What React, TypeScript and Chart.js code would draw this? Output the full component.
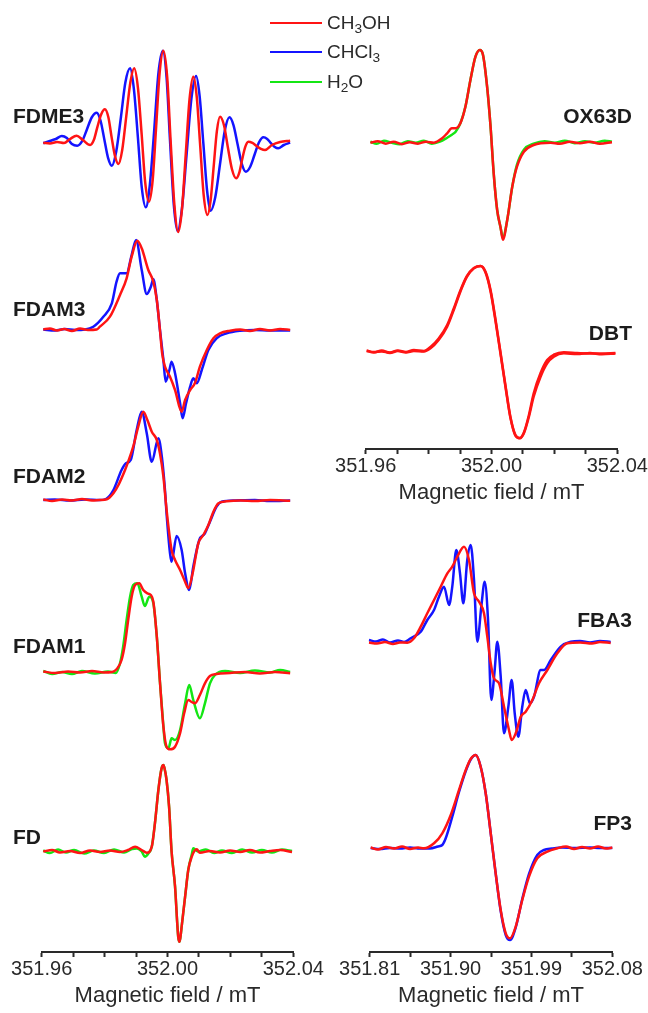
import React, { useEffect, useRef } from 'react';
import { Chart, registerables } from 'chart.js';

Chart.register(...registerables);

const FONT = "'Liberation Sans', Arial, Helvetica, sans-serif";
const RED = '#ff1414';
const BLUE = '#1414ff';
const GREEN = '#14e614';
const INK = '#2a2a2a';

// ---------- axis ticks ----------
const TICKS_A = [351.96, 351.97, 351.98, 351.99, 352.0, 352.01, 352.02, 352.03, 352.04];
const TICK_LABELS_A = ['351.96', '', '', '', '352.00', '', '', '', '352.04'];
const TICKS_B = [351.81, 351.855, 351.9, 351.945, 351.99, 352.035, 352.08];
const TICK_LABELS_B = ['351.81', '', '351.90', '', '351.99', '', '352.08'];
const AXIS_TITLE = 'Magnetic field / mT';

// ---------- FDME3 ----------
const FDME3_RED_B = [351.9605, 351.9626, 351.9649, 351.9671, 351.969, 351.9711, 351.9731, 351.9754, 351.9766, 351.9777, 351.9789, 351.9801, 351.9812, 351.9822, 351.9833, 351.9844, 351.9856, 351.9869, 351.9882, 351.9894, 351.9906, 351.9918, 351.9929, 351.9941, 351.9953, 351.9964, 351.9975, 351.9987, 351.9999, 352.001, 352.0022, 352.0034, 352.0046, 352.0058, 352.007, 352.0082, 352.0093, 352.0104, 352.0115, 352.0127, 352.0137, 352.0147, 352.0157, 352.0167, 352.018, 352.0192, 352.0205, 352.0218, 352.0228, 352.0237, 352.0247, 352.0257, 352.027, 352.0283, 352.0297, 352.031, 352.0332, 352.0358, 352.039];
const FDME3_RED = [0.3, -0.5, 1, 0, 4, 7.3, 3, -2, 3.2, 15.9, 28.5, 33.7, 25.7, 6.4, -13, -21, -7, 26.9, 60.7, 74.7, 55.2, 8, -39.2, -58.7, -36.6, 16.8, 70.2, 92.3, 65.8, 1.7, -62.4, -89, -66.3, -11.4, 43.6, 66.3, 46.1, -2.9, -51.8, -72, -57.6, -22.9, 11.9, 26.3, 17.3, -4.5, -26.3, -35.3, -29.9, -17, -4.1, 1.3, 0.1, -2.9, -5.8, -7, -2, 1, 2.3];
const FDME3_BLUE_B = [351.9605, 351.9626, 351.9645, 351.9664, 351.968, 351.9696, 351.9713, 351.9729, 351.9744, 351.9759, 351.9775, 351.9787, 351.9799, 351.9811, 351.9823, 351.9837, 351.9852, 351.9866, 351.9881, 351.9893, 351.9906, 351.9918, 351.9931, 351.9944, 351.9958, 351.9971, 351.9985, 351.9997, 352.0008, 352.002, 352.0032, 352.0046, 352.0061, 352.0076, 352.0091, 352.0102, 352.0114, 352.0126, 352.0137, 352.0152, 352.0167, 352.0182, 352.0197, 352.021, 352.0223, 352.0236, 352.0249, 352.0263, 352.0277, 352.0291, 352.0305, 352.0317, 352.0328, 352.034, 352.0352, 352.037, 352.039];
const FDME3_BLUE = [-0.3, 2, 4, 7, 5, -1, -2.7, 2.1, 13.8, 25.5, 30.3, 22.5, 3.8, -14.9, -22.7, -8.4, 26, 60.4, 74.7, 54.3, 5.2, -43.9, -64.3, -41.4, 14, 69.4, 92.3, 65.9, 2.2, -61.6, -88, -65.3, -10.5, 44.3, 67, 47.3, -0.4, -48, -67.7, -54, -21, 12, 25.7, 17.7, -1.5, -20.7, -28.7, -23.7, -11.5, 0.7, 5.7, 4.1, 0.2, -3.7, -5.3, -2, 0.3];

// ---------- FDAM3 ----------
const FDAM3_RED_B = [351.9605, 351.9626, 351.9649, 351.9671, 351.9696, 351.9722, 351.9747, 351.9775, 351.9785, 351.9817, 351.9849, 351.987, 351.9886, 351.9904, 351.9918, 351.9939, 351.9955, 351.9966, 351.9976, 351.9983, 351.9992, 352.0008, 352.0024, 352.0045, 352.0056, 352.0072, 352.0087, 352.0103, 352.0125, 352.0146, 352.0167, 352.0199, 352.0231, 352.0262, 352.0294, 352.0326, 352.0358, 352.039];
const FDAM3_RED = [0, 1, -1, 0.5, -1.5, 1, -0.5, 0, 2.8, 12.8, 34.5, 51.2, 72.8, 88.8, 81.2, 59.5, 47.8, 29.5, -0.5, -23.8, -37.2, -47.2, -60.5, -82.2, -70.5, -60.5, -53.8, -37.2, -20.5, -8.8, -3.8, -1.2, 0, -1.5, 0.5, -1, 0.5, -0.5];
const FDAM3_BLUE_B = [351.9605, 351.9642, 351.9674, 351.9706, 351.9738, 351.9764, 351.9796, 351.9823, 351.9838, 351.9849, 351.987, 351.9886, 351.99, 351.9918, 351.9934, 351.9947, 351.9955, 351.9966, 351.9976, 351.9987, 351.9994, 352.0006, 352.0013, 352.0024, 352.004, 352.0048, 352.0059, 352.0072, 352.0082, 352.0093, 352.0109, 352.013, 352.0156, 352.0188, 352.0231, 352.0278, 352.0326, 352.039];
const FDAM3_BLUE = [0, -1, 0.5, -0.5, 0, 2.8, 12.8, 26.2, 47.8, 56.2, 56.2, 74.5, 89.5, 59.5, 35.5, 42.8, 50.2, 29.5, -0.5, -30.5, -52.2, -40.5, -32.2, -43.8, -73.8, -88.8, -73.8, -57.2, -48.8, -53.8, -40.5, -20.5, -8.8, -3.8, -1.2, -0.5, -1, -1];

// ---------- FDAM2 ----------
const FDAM2_RED_B = [351.9605, 351.9633, 351.9665, 351.9696, 351.9728, 351.976, 351.9785, 351.9807, 351.9828, 351.9844, 351.9865, 351.9875, 351.9891, 351.9907, 351.9923, 351.9936, 351.995, 351.9966, 351.9976, 351.9987, 351.9995, 352.0003, 352.0013, 352.0024, 352.004, 352.0056, 352.0066, 352.008, 352.0098, 352.0114, 352.013, 352.0146, 352.0162, 352.0188, 352.0231, 352.0278, 352.0326, 352.039];
const FDAM2_RED = [0.5, -1, 0.5, -0.5, 1, -0.5, 0, 0.7, 6.7, 15, 30, 38.3, 53.3, 73.3, 88.3, 80, 68.3, 60, 46.7, 23.3, -3.3, -26.7, -50, -60, -70, -81.7, -88, -73.3, -43.3, -35, -25, -11.7, -3.3, -1.3, -0.5, -1, 0, -0.7];
const FDAM2_BLUE_B = [351.9605, 351.9642, 351.969, 351.9738, 351.9785, 351.9804, 351.9828, 351.9854, 351.9868, 351.9883, 351.9902, 351.9918, 351.9934, 351.995, 351.9971, 351.9982, 351.9992, 351.9997, 352.0008, 352.0013, 352.0029, 352.0045, 352.0056, 352.0069, 352.0082, 352.0101, 352.0119, 352.0135, 352.0156, 352.0172, 352.0215, 352.0278, 352.0326, 352.039];
const FDAM2_BLUE = [0, 0.5, -0.5, 0.5, 0, 1, 10, 30, 36.7, 40, 70, 88.3, 66.7, 38.3, 61.7, 43.3, 10, -13.3, -53.3, -61.7, -36, -50, -73.3, -90, -66.7, -40, -33.3, -21.7, -6.7, -1.7, -0.5, 0, -1, -0.5];

// ---------- FDAM1 ----------
const FDAM1_RED_B = [351.9605, 351.9642, 351.9684, 351.9722, 351.976, 351.9798, 351.9824, 351.9838, 351.9854, 351.9865, 351.9875, 351.9886, 351.9897, 351.991, 351.9923, 351.9936, 351.9947, 351.9955, 351.9966, 351.9976, 351.9987, 351.9997, 352.0008, 352.0024, 352.004, 352.0053, 352.0066, 352.0077, 352.0087, 352.0103, 352.0119, 352.0135, 352.0156, 352.0199, 352.0246, 352.0294, 352.0342, 352.039];
const FDAM1_RED = [0.5, -1, 0.5, -0.5, 1, -0.5, 0, 2.7, 12, 28.7, 52, 75.3, 87, 88.7, 82, 78.7, 77, 70.3, 35.3, -10, -54.7, -74.7, -77.3, -74.7, -61.3, -41.3, -28, -30, -31.3, -23, -11.3, -4, -2, -1, 0, -1.5, 0, -1.3];
const FDAM1_GREEN_B = [351.9605, 351.9633, 351.9665, 351.9696, 351.9728, 351.9769, 351.9811, 351.9836, 351.9849, 351.9859, 351.987, 351.9881, 351.9891, 351.9904, 351.9918, 351.9928, 351.9942, 351.9955, 351.9966, 351.9976, 351.9987, 351.9992, 352.0003, 352.0013, 352.0024, 352.004, 352.0056, 352.0069, 352.0082, 352.0103, 352.0119, 352.0135, 352.0151, 352.0183, 352.0231, 352.0278, 352.0326, 352.0358, 352.039];
const FDAM1_GREEN = [1, -2, 0, -2, 1, -1.5, 0.5, -1, 8.7, 25.3, 52, 75.3, 87, 88.7, 75.3, 66, 75.3, 68.7, 35.3, -10, -54.7, -71.3, -76.3, -66.3, -68, -58, -31.3, -13, -28, -46.3, -31.3, -11.3, -3, 1, -1, 1.5, -0.5, 2, 0];

// ---------- FD ----------
const FD_RED_B = [351.9605, 351.9633, 351.9658, 351.969, 351.9722, 351.9754, 351.9785, 351.9817, 351.9849, 351.9874, 351.9897, 351.9918, 351.9934, 351.995, 351.996, 351.9971, 351.9979, 351.9983, 351.9987, 351.999, 351.9997, 352.0005, 352.0013, 352.0024, 352.0031, 352.0034, 352.0038, 352.0041, 352.0045, 352.0056, 352.0066, 352.0077, 352.0093, 352.0103, 352.0135, 352.0167, 352.0199, 352.0231, 352.0262, 352.0294, 352.0326, 352.0358, 352.0396];
const FD_RED = [0, 1.5, -1, 0.5, -1.5, 1, -0.5, 1, -0.5, 1.5, 4.8, 1.5, -1.2, 4.8, 28.2, 61.5, 79.8, 85, 86.5, 84, 71.5, 44.8, 0, -35, -72, -85, -90.2, -86, -75.2, -45.2, -18.5, -5.2, 2.2, -1.2, 0.5, -1, 1, -0.5, 1.5, -1, 0.5, 1.5, -0.5];
const FD_GREEN_B = [351.9605, 351.9626, 351.9652, 351.9677, 351.9703, 351.9735, 351.9766, 351.9798, 351.983, 351.9862, 351.9887, 351.9903, 351.9918, 351.9928, 351.9939, 351.995, 351.996, 351.9971, 351.9979, 351.9983, 351.9987, 351.999, 351.9997, 352.0005, 352.0013, 352.0024, 352.0031, 352.0034, 352.0038, 352.0041, 352.0045, 352.0056, 352.0066, 352.0077, 352.0082, 352.0097, 352.0122, 352.0148, 352.0173, 352.0205, 352.0237, 352.0269, 352.03, 352.0332, 352.0364, 352.0396];
const FD_GREEN = [1, -1.5, 2, -1, 1.5, -2, 1, -1.5, 2, -1, 2.5, 3, 0, -5.2, -2, 4.8, 28.2, 61.5, 79.8, 85, 86.5, 84, 71.5, 44.8, 0, -35, -72, -85, -90.2, -86, -75.2, -45.2, -18.5, -3, 3.2, 0, 2, -1.5, 1, -1.5, 2, -1, 1.5, -1, 2, 0.5];

// ---------- OX63D ----------
const OX63D_RED_B = [351.9615, 351.9638, 351.9664, 351.9689, 351.9715, 351.974, 351.9766, 351.9791, 351.9817, 351.9843, 351.9859, 351.9874, 351.9886, 351.9901, 351.9917, 351.9933, 351.9949, 351.9963, 351.9973, 351.9986, 351.9997, 352.0007, 352.0018, 352.0029, 352.0036, 352.005, 352.0066, 352.0081, 352.0103, 352.0134, 352.0188, 352.0217, 352.0249, 352.0281, 352.0313, 352.0344, 352.0383];
const OX63D_RED = [0, 1.5, -1, 1, -1.5, 0.5, -1, 1, 0, 4.4, 9.4, 14.4, 14.4, 19.4, 36, 62.7, 86, 92.7, 87.7, 56, 16, -30.6, -67.3, -85, -97, -77.3, -44, -24, -9, -2.3, 0, -1, 1, -0.5, 1, -1, 0.5];
const OX63D_GREEN_B = [351.9615, 351.9635, 351.9658, 351.9683, 351.9708, 351.9734, 351.9759, 351.9785, 351.981, 351.9836, 351.9859, 351.9874, 351.9886, 351.9901, 351.9917, 351.9933, 351.9949, 351.9963, 351.9973, 351.9986, 351.9997, 352.0007, 352.0018, 352.0029, 352.0036, 352.005, 352.0066, 352.0081, 352.0103, 352.0134, 352.0169, 352.0201, 352.0233, 352.0265, 352.0297, 352.0328, 352.036, 352.0383];
const OX63D_GREEN = [1, -1, 2, 0, -1.5, 1.5, 0, 2, -1, 1, 5, 8, 11, 19.4, 36, 62.7, 86, 92.7, 87.7, 56, 16, -30.6, -67.3, -85, -95, -77.3, -44, -22, -7, -1, 1.5, 0, 2, -0.5, 1.5, 0, 2, 1];

// ---------- DBT ----------
const DBT_B = [351.9603, 351.9626, 351.9651, 351.9677, 351.9702, 351.9728, 351.9753, 351.9785, 351.9806, 351.9832, 351.9859, 351.988, 351.9901, 351.9922, 351.9944, 351.9965, 351.9981, 351.9997, 352.0013, 352.0029, 352.0045, 352.006, 352.0076, 352.009, 352.0103, 352.0119, 352.0134, 352.0156, 352.0177, 352.0198, 352.023, 352.0272, 352.0313, 352.0351, 352.0394];
const DBT_RED_1 = [0.5, -1, 1, -1.5, 0.5, -1, 0.5, 0, 3.2, 11.5, 24.8, 41.5, 59.8, 74.8, 83.2, 85.5, 79.8, 61.5, 31.5, -1.8, -35.2, -65.2, -83.5, -86.8, -81.8, -65.2, -45.2, -25.2, -11.8, -5.2, -1.8, -2.5, -1.5, -2.8, -2];
const DBT_RED_2 = [1, -0.5, 0, -1, 1, -0.5, 1.5, 0.5, 4.5, 13, 26.5, 43, 61, 75.5, 83.5, 85.5, 79, 60, 30, -3, -36.5, -66, -84, -86.5, -81, -63.5, -42, -21.5, -8.5, -3.2, -0.8, -1.5, -2, -2, -1.5];

// ---------- FBA3 ----------
const FBA3_RED_B = [351.8092, 351.8181, 351.827, 351.8359, 351.8437, 351.8518, 351.8593, 351.8668, 351.8741, 351.8816, 351.889, 351.8964, 351.9019, 351.9075, 351.915, 351.9205, 351.9261, 351.9317, 351.9372, 351.9409, 351.9447, 351.9483, 351.9539, 351.9595, 351.965, 351.968, 351.9725, 351.9781, 351.9836, 351.991, 351.9984, 352.0077, 352.0188, 352.0299, 352.0441, 352.0574, 352.0663, 352.0782];
const FBA3_RED = [0, -1, 0.5, -1.5, 0, -0.2, 4.2, 15.8, 29.2, 42.5, 55.8, 69.2, 75.8, 85.8, 95.8, 82.5, 49.2, 40.8, 29.2, 5.8, -20.8, -35.8, -40.8, -64.2, -87.5, -97.5, -90.8, -74.2, -69.2, -57.5, -40.8, -27.5, -10.8, -0.8, 0, -1, 0.5, -0.5];
const FBA3_BLUE_B = [351.8092, 351.817, 351.8248, 351.8326, 351.8415, 351.8482, 351.8556, 351.8668, 351.8741, 351.8816, 351.8871, 351.8927, 351.8983, 351.9019, 351.9064, 351.9105, 351.9142, 351.9186, 351.9224, 351.9261, 351.9298, 351.9342, 351.938, 351.9417, 351.9453, 351.9491, 351.952, 351.9558, 351.9595, 351.9643, 351.968, 351.9714, 351.9754, 351.9798, 351.9836, 351.9884, 351.9929, 352.0003, 352.004, 352.0115, 352.0226, 352.0337, 352.0441, 352.0552, 352.0663, 352.0782];
const FBA3_BLUE = [2.5, 1, 3, 0, 2, 0.5, 4.2, 10.8, 22.5, 32.5, 45.8, 55.8, 37.5, 55.8, 92.5, 69.2, 39.2, 82.5, 97.5, 62.5, 0.8, 35.8, 60.8, 22.5, -57.5, -27.5, 0.8, -34.2, -90.8, -64.2, -37.5, -70.8, -94.2, -64.2, -47.5, -60.8, -54.2, -27.5, -27.5, -17.5, -4.2, 0.8, 1.5, 0, 1.5, 0.5];

// ---------- FP3 ----------
const FP3_RED_B = [351.8111, 351.8192, 351.8281, 351.8371, 351.846, 351.8549, 351.8638, 351.8704, 351.8816, 351.8908, 351.9002, 351.9094, 351.9169, 351.9224, 351.928, 351.9335, 351.9391, 351.9447, 351.9502, 351.9558, 351.9614, 351.9662, 351.9725, 351.9798, 351.9873, 351.9965, 352.0077, 352.0188, 352.0285, 352.0374, 352.0463, 352.0552, 352.0641, 352.073, 352.08];
const FP3_RED = [0.5, -1.5, 1, -0.5, 1.5, -1, 0.5, -0.3, 4.7, 14.7, 33, 58, 78, 89, 93, 81.3, 54.7, 14.7, -25.3, -62, -85.3, -90.3, -78.7, -52, -28.7, -10.3, -3.7, -0.3, 1.5, -1, 1, -0.5, 1.5, -0.5, 0.5];
const FP3_BLUE_B = [351.8111, 351.8215, 351.8326, 351.8437, 351.8549, 351.866, 351.8771, 351.886, 351.8908, 351.8946, 351.9019, 351.9094, 351.9169, 351.9224, 351.928, 351.9335, 351.9391, 351.9447, 351.9502, 351.9558, 351.9614, 351.9662, 351.9725, 351.9798, 351.9873, 351.9965, 352.004, 352.0129, 352.024, 352.0385, 352.0552, 352.0663, 352.08];
const FP3_BLUE = [0, -1, 0, -0.5, 0.5, -0.5, -0.5, 1.5, 3, 9.7, 31.3, 56, 77, 88.5, 93, 81.3, 54.7, 14.7, -25.3, -63, -87, -92, -79.5, -51, -26, -7, -2, -0.5, 0.5, 0, 0.5, 0, 0];

// ---------- stacking offsets (baseline height above each axis) ----------
const OFFSET_FDME3 = 809;
const OFFSET_FDAM3 = 622.5;
const OFFSET_FDAM2 = 452;
const OFFSET_FDAM1 = 280;
const OFFSET_FD = 100.5;
const OFFSET_OX63D = 306.3;
const OFFSET_DBT = 97.5;
const OFFSET_FBA3 = 309.5;
const OFFSET_FP3 = 104;

type Series = { label: string; color: string; field: number[]; values: number[] };
type Panel = { offset: number; series: Series[] };

const LEFT_PANELS: Panel[] = [
  { offset: OFFSET_FDME3, series: [
    { label: 'FDME3 CH3OH', color: RED, field: FDME3_RED_B, values: FDME3_RED },
    { label: 'FDME3 CHCl3', color: BLUE, field: FDME3_BLUE_B, values: FDME3_BLUE },
  ] },
  { offset: OFFSET_FDAM3, series: [
    { label: 'FDAM3 CH3OH', color: RED, field: FDAM3_RED_B, values: FDAM3_RED },
    { label: 'FDAM3 CHCl3', color: BLUE, field: FDAM3_BLUE_B, values: FDAM3_BLUE },
  ] },
  { offset: OFFSET_FDAM2, series: [
    { label: 'FDAM2 CH3OH', color: RED, field: FDAM2_RED_B, values: FDAM2_RED },
    { label: 'FDAM2 CHCl3', color: BLUE, field: FDAM2_BLUE_B, values: FDAM2_BLUE },
  ] },
  { offset: OFFSET_FDAM1, series: [
    { label: 'FDAM1 CH3OH', color: RED, field: FDAM1_RED_B, values: FDAM1_RED },
    { label: 'FDAM1 H2O', color: GREEN, field: FDAM1_GREEN_B, values: FDAM1_GREEN },
  ] },
  { offset: OFFSET_FD, series: [
    { label: 'FD CH3OH', color: RED, field: FD_RED_B, values: FD_RED },
    { label: 'FD H2O', color: GREEN, field: FD_GREEN_B, values: FD_GREEN },
  ] },
];

const RIGHT_TOP_PANELS: Panel[] = [
  { offset: OFFSET_OX63D, series: [
    { label: 'OX63D CH3OH', color: RED, field: OX63D_RED_B, values: OX63D_RED },
    { label: 'OX63D H2O', color: GREEN, field: OX63D_GREEN_B, values: OX63D_GREEN },
  ] },
  { offset: OFFSET_DBT, series: [
    { label: 'DBT CH3OH', color: RED, field: DBT_B, values: DBT_RED_1 },
    { label: 'DBT CH3OH (2)', color: RED, field: DBT_B, values: DBT_RED_2 },
  ] },
];

const RIGHT_BOTTOM_PANELS: Panel[] = [
  { offset: OFFSET_FBA3, series: [
    { label: 'FBA3 CH3OH', color: RED, field: FBA3_RED_B, values: FBA3_RED },
    { label: 'FBA3 CHCl3', color: BLUE, field: FBA3_BLUE_B, values: FBA3_BLUE },
  ] },
  { offset: OFFSET_FP3, series: [
    { label: 'FP3 CH3OH', color: RED, field: FP3_RED_B, values: FP3_RED },
    { label: 'FP3 CHCl3', color: BLUE, field: FP3_BLUE_B, values: FP3_BLUE },
  ] },
];

type ChartCfg = {
  left: number; top: number; width: number; height: number;
  xMin: number; xMax: number; ticks: number[]; tickLabels: string[];
  padLeft: number; padRight: number; panels: Panel[];
};

const AXIS_BOX = 61;

function SpectraChart({ cfg }: { cfg: ChartCfg }) {
  const ref = useRef<HTMLCanvasElement | null>(null);
  useEffect(() => {
    const canvas = ref.current;
    if (!canvas) return;
    const datasets: any[] = [];
    cfg.panels.forEach((p) => {
      p.series.forEach((s) => {
        datasets.push({
          label: s.label,
          data: s.field.map((b, i) => ({ x: b, y: p.offset + s.values[i] })),
          borderColor: s.color,
          backgroundColor: s.color,
          borderWidth: 2.5,
          pointRadius: 0,
          fill: false,
          cubicInterpolationMode: 'monotone',
          clip: false,
          order: s.color === RED ? 0 : 1,
        });
      });
    });
    const yMax = cfg.height - AXIS_BOX;
    const chart = new Chart(canvas, {
      type: 'line',
      data: { datasets },
      options: {
        animation: false,
        responsive: false,
        maintainAspectRatio: false,
        devicePixelRatio: 1,
        events: [],
        layout: { padding: { left: cfg.padLeft, right: cfg.padRight, top: 0, bottom: 0 } },
        plugins: { legend: { display: false }, tooltip: { enabled: false }, title: { display: false } },
        scales: {
          x: {
            type: 'linear',
            min: cfg.xMin,
            max: cfg.xMax,
            afterBuildTicks: (scale: any) => {
              scale.ticks = cfg.ticks.map((v) => ({ value: v }));
            },
            afterFit: (scale: any) => {
              scale.height = AXIS_BOX;
            },
            grid: {
              display: true,
              drawOnChartArea: false,
              drawTicks: true,
              tickLength: 5,
              tickWidth: 2,
              tickColor: INK,
              color: INK,
            },
            border: { display: true, color: INK, width: 2 },
            ticks: {
              autoSkip: false,
              maxRotation: 0,
              minRotation: 0,
              padding: 0,
              color: INK,
              font: { family: FONT, size: 20 },
              callback: (_v: any, i: number) => cfg.tickLabels[i] ?? '',
            },
            title: {
              display: true,
              text: AXIS_TITLE,
              color: INK,
              font: { family: FONT, size: 22 },
              padding: { top: 0, bottom: 4 },
            },
          },
          y: { display: false, min: 0, max: yMax },
        },
      } as any,
    });
    return () => chart.destroy();
  }, []);
  return (
    <canvas
      ref={ref}
      width={cfg.width}
      height={cfg.height}
      style={{ position: 'absolute', left: cfg.left, top: cfg.top, width: cfg.width, height: cfg.height }}
    />
  );
}

const LEFT_CFG: ChartCfg = {
  left: 0, top: 0, width: 324, height: 1013,
  xMin: 351.96, xMax: 352.04, ticks: TICKS_A, tickLabels: TICK_LABELS_A,
  padLeft: 41.7, padRight: 30.7, panels: LEFT_PANELS,
};
const RIGHT_TOP_CFG: ChartCfg = {
  left: 324, top: 0, width: 324, height: 510,
  xMin: 351.96, xMax: 352.04, ticks: TICKS_A, tickLabels: TICK_LABELS_A,
  padLeft: 41.7, padRight: 30.7, panels: RIGHT_TOP_PANELS,
};
const RIGHT_BOTTOM_CFG: ChartCfg = {
  left: 324, top: 510, width: 324, height: 503,
  xMin: 351.81, xMax: 352.08, ticks: TICKS_B, tickLabels: TICK_LABELS_B,
  padLeft: 45.7, padRight: 35.7, panels: RIGHT_BOTTOM_PANELS,
};

const LEFT_LABELS = [
  { text: 'FDME3', cy: 116 },
  { text: 'FDAM3', cy: 309 },
  { text: 'FDAM2', cy: 475.5 },
  { text: 'FDAM1', cy: 645.7 },
  { text: 'FD', cy: 836.7 },
];
const RIGHT_LABELS = [
  { text: 'OX63D', cy: 116 },
  { text: 'DBT', cy: 333 },
  { text: 'FBA3', cy: 620 },
  { text: 'FP3', cy: 823 },
];

const subStyle: React.CSSProperties = { fontSize: '0.72em', verticalAlign: '-0.32em', lineHeight: 0 };

const LEGEND = [
  { color: RED, cy: 22.7, node: <>CH<sub style={subStyle}>3</sub>OH</> },
  { color: BLUE, cy: 51.7, node: <>CHCl<sub style={subStyle}>3</sub></> },
  { color: GREEN, cy: 81.7, node: <>H<sub style={subStyle}>2</sub>O</> },
];

export default function App() {
  const labelStyle: React.CSSProperties = {
    position: 'absolute',
    fontFamily: FONT,
    fontWeight: 'bold',
    fontSize: 21,
    lineHeight: '24px',
    color: '#1c1c1c',
    whiteSpace: 'nowrap',
  };
  return (
    <div style={{ position: 'absolute', left: 0, top: 0, width: 648, height: 1013, background: '#fff', overflow: 'hidden' }}>
      <SpectraChart cfg={LEFT_CFG} />
      <SpectraChart cfg={RIGHT_TOP_CFG} />
      <SpectraChart cfg={RIGHT_BOTTOM_CFG} />
      {LEFT_LABELS.map((l) => (
        <div key={l.text} style={{ ...labelStyle, left: 13, top: l.cy - 11.7 }}>{l.text}</div>
      ))}
      {RIGHT_LABELS.map((l) => (
        <div key={l.text} style={{ ...labelStyle, right: 16, top: l.cy - 11.7 }}>{l.text}</div>
      ))}
      {LEGEND.map((g, i) => (
        <React.Fragment key={i}>
          <div style={{ position: 'absolute', left: 270, top: g.cy - 1, width: 52, height: 2, background: g.color }} />
          <div style={{ position: 'absolute', left: 327, top: g.cy - 10.8, fontFamily: FONT, fontSize: 19, lineHeight: '22px', color: INK, whiteSpace: 'nowrap' }}>{g.node}</div>
        </React.Fragment>
      ))}
    </div>
  );
}
